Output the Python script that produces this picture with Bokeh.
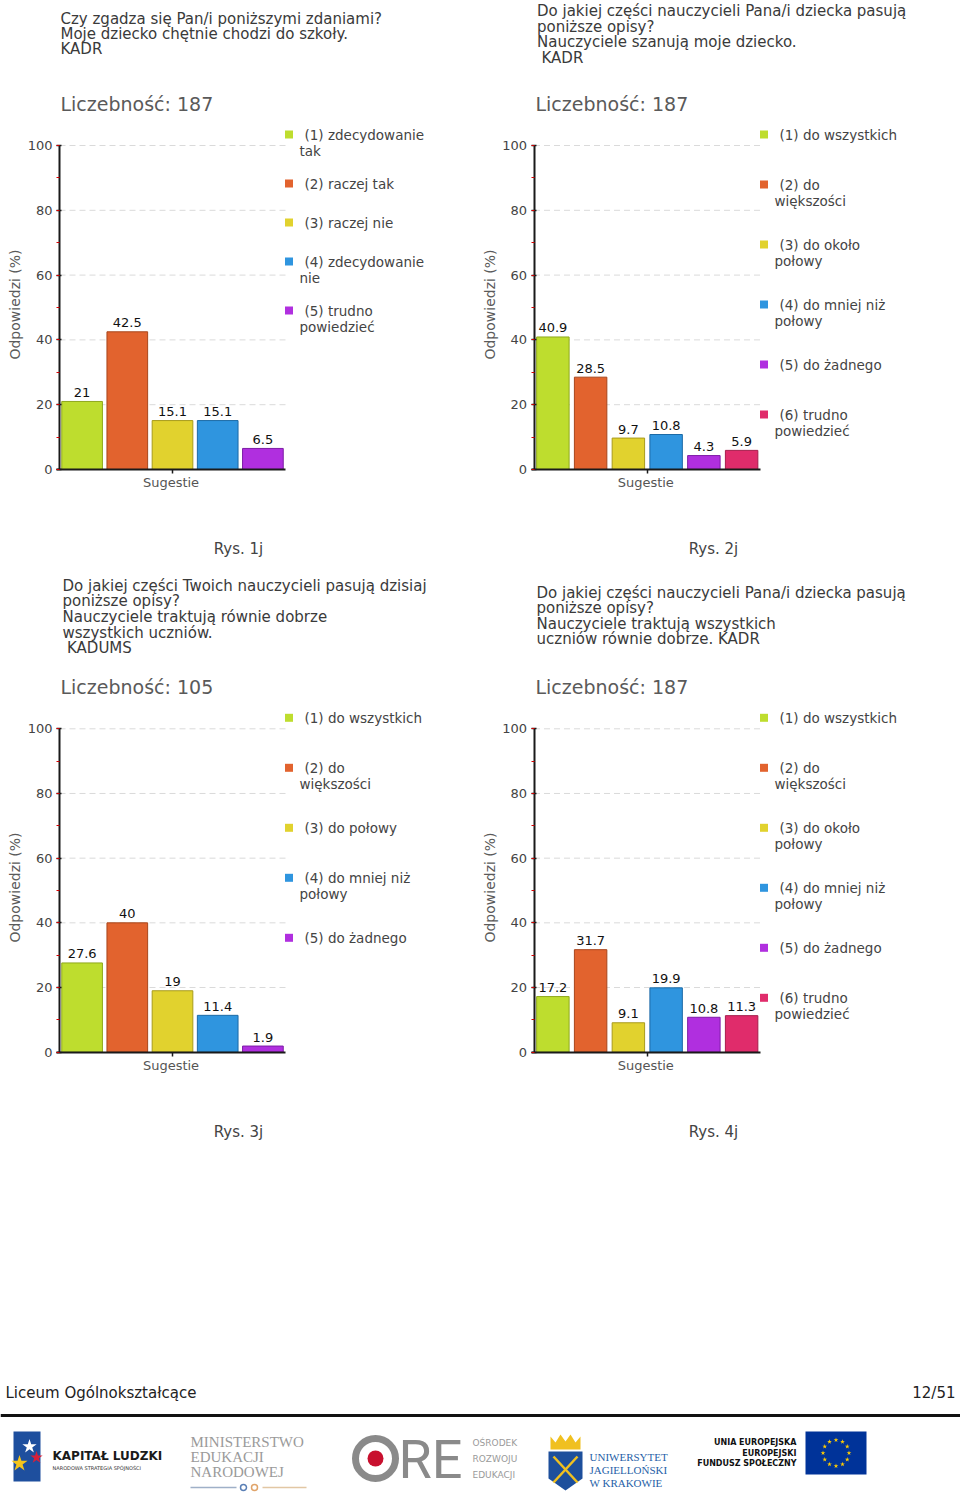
import math
from bokeh.plotting import figure
from bokeh.models import (Range1d, LinearAxis, SingleIntervalTicker, FixedTicker,
                          ColumnDataSource, Span)
from bokeh.core.properties import value
from bokeh.embed import file_html
from bokeh.resources import INLINE

# ---------------- data ----------------
TITLE_1 = ["Czy zgadza się Pan/i poniższymi zdaniami?",
           "Moje dziecko chętnie chodzi do szkoły.",
           "KADR"]
TITLE_2 = ["Do jakiej części nauczycieli Pana/i dziecka pasują",
           "poniższe opisy?",
           "Nauczyciele szanują moje dziecko.",
           " KADR"]
TITLE_3 = ["Do jakiej części Twoich nauczycieli pasują dzisiaj",
           "poniższe opisy?",
           "Nauczyciele traktują równie dobrze",
           "wszystkich uczniów.",
           " KADUMS"]
TITLE_4 = ["Do jakiej części nauczycieli Pana/i dziecka pasują",
           "poniższe opisy?",
           "Nauczyciele traktują wszystkich",
           "uczniów równie dobrze.  KADR"]

COUNT_1, COUNT_2, COUNT_3, COUNT_4 = 187, 187, 105, 187

LEGEND_1 = ["(1) zdecydowanie\ntak", "(2) raczej tak", "(3) raczej nie",
            "(4) zdecydowanie\nnie", "(5) trudno\npowiedzieć"]
LEGEND_2 = ["(1) do wszystkich", "(2) do\nwiększości", "(3) do około\npołowy",
            "(4) do mniej niż\npołowy", "(5) do żadnego", "(6) trudno\npowiedzieć"]
LEGEND_3 = ["(1) do wszystkich", "(2) do\nwiększości", "(3) do połowy",
            "(4) do mniej niż\npołowy", "(5) do żadnego"]
LEGEND_4 = ["(1) do wszystkich", "(2) do\nwiększości", "(3) do około\npołowy",
            "(4) do mniej niż\npołowy", "(5) do żadnego", "(6) trudno\npowiedzieć"]

VALUES_1 = [21, 42.5, 15.1, 15.1, 6.5]
VALUES_2 = [40.9, 28.5, 9.7, 10.8, 4.3, 5.9]
VALUES_3 = [27.6, 40, 19, 11.4, 1.9]
VALUES_4 = [17.2, 31.7, 9.1, 19.9, 10.8, 11.3]

CAPTIONS = ["Rys. 1j", "Rys. 2j", "Rys. 3j", "Rys. 4j"]
Y_LABEL = "Odpowiedzi (%)"
X_LABEL = "Sugestie"
COUNT_PREFIX = "Liczebność: "
Y_TICKS = [0, 20, 40, 60, 80, 100]
FOOTER_LEFT = "Liceum Ogólnokształcące"
FOOTER_RIGHT = "12/51"

# ---------------- style ----------------
COLORS = ["#bedd2e", "#e2632e", "#e1d22e", "#2f95df", "#b02fdf", "#e02c6b"]
EDGES = ["#8fa81c", "#a8461c", "#a89b1c", "#1c6aa6", "#7d1ca6", "#a61c4b"]
FONT = value("DejaVu Sans")
FIG_W, FIG_H = 960, 1500
PX0, PY0 = 0, 0

LAYOUT = [
    dict(left=59, right=285, y0=469, y100=145, title_x=60, title_y=18.3, title_dy=15.3,
         count_x=60, count_y=103, cap_x=238, cap_y=548, leg_step=39, bar_w=0.9),
    dict(left=533.5, right=760, y0=469, y100=145, title_x=536.5, title_y=10.5, title_dy=15.5,
         count_x=535, count_y=103, cap_x=713, cap_y=548, leg_step=50, bar_w=0.86),
    dict(left=59, right=285, y0=1051.7, y100=728.3, title_x=62, title_y=585, title_dy=15.7,
         count_x=60, count_y=686.7, cap_x=238, cap_y=1131.5, leg_step=50, bar_w=0.9),
    dict(left=533.5, right=760, y0=1051.7, y100=728.3, title_x=536, title_y=592, title_dy=15.6,
         count_x=535, count_y=686.7, cap_x=713, cap_y=1131.5, leg_step=50, bar_w=0.86),
]

p = figure(width=FIG_W, height=FIG_H,
           x_range=Range1d(PX0, PX0 + FIG_W), y_range=Range1d(PY0 + FIG_H, PY0),
           x_axis_type=None, y_axis_type=None, output_backend="svg",
           toolbar_location=None, min_border=0, outline_line_color=None,
           background_fill_color="white", border_fill_color="white")


def txt(xs, ys, texts, size, color="#333", align="left", baseline="middle",
        style="normal", font=FONT, angle=0.0):
    p.text(x=xs, y=ys, text=texts, text_font=font, text_font_size=size,
           text_color=color, text_align=align, text_baseline=baseline,
           text_font_style=style, angle=angle)


def draw_chart(k, title, count, legend, values, caption, lay):
    n = len(values)
    left, right, y0, y100 = lay["left"], lay["right"], lay["y0"], lay["y100"]
    u = n / (right - left)
    s = 100.0 / (y0 - y100)
    xn, yn = f"x{k}", f"y{k}"
    p.extra_x_ranges[xn] = Range1d(-(left - PX0) * u, n + (PX0 + FIG_W - right) * u)
    p.extra_y_ranges[yn] = Range1d(-(PY0 + FIG_H - y0) * s, 100 + (y100 - PY0) * s)

    grid = [t for t in Y_TICKS if t > 0]
    p.segment(x0=[0] * len(grid), x1=[n] * len(grid), y0=grid, y1=grid,
              line_color="#dadada", line_dash="6 4", line_width=1,
              x_range_name=xn, y_range_name=yn)

    src = ColumnDataSource(dict(x=[i + 0.5 for i in range(n)], top=values,
                                fill=COLORS[:n], edge=EDGES[:n],
                                label=[f"{v:g}" for v in values]))
    p.vbar(x="x", top="top", bottom=0, width=lay["bar_w"], fill_color="fill",
           line_color="edge", line_width=1, source=src,
           x_range_name=xn, y_range_name=yn)
    p.text(x="x", y="top", text="label", source=src, x_range_name=xn, y_range_name=yn,
           text_font=FONT, text_font_size="13px", text_color="#111",
           text_align="center", text_baseline="middle", y_offset=-9)

    yax = LinearAxis(x_range_name=xn, y_range_name=yn, fixed_location=0, bounds=(0, 100),
                     ticker=SingleIntervalTicker(interval=20, num_minor_ticks=2),
                     axis_line_color="#1a1a1a", axis_line_width=2,
                     major_tick_line_color="#1a1a1a", major_tick_line_width=1.5,
                     major_tick_out=3, major_tick_in=2,
                     minor_tick_line_color="#d40000", minor_tick_line_width=1,
                     minor_tick_out=3, minor_tick_in=0,
                     major_label_text_font="DejaVu Sans",
                     major_label_text_font_size="13px",
                     major_label_text_color="#444", major_label_standoff=4)
    p.add_layout(yax, "left")
    xax = LinearAxis(x_range_name=xn, y_range_name=yn, fixed_location=0,
                     bounds=(-0.06, n), ticker=FixedTicker(ticks=[n / 2]),
                     major_label_overrides={n / 2: ""},
                     major_label_text_font_size="0px",
                     axis_line_color="#1a1a1a", axis_line_width=2,
                     major_tick_line_color="#1a1a1a", major_tick_line_width=1.5,
                     major_tick_out=4, major_tick_in=0,
                     minor_tick_out=0, minor_tick_in=0)
    p.add_layout(xax, "below")

    # axis titles
    txt([left - 44.5], [(y0 + y100) / 2 - 3], [Y_LABEL], "14px", color="#5a5a5a",
        align="center", angle=math.pi / 2)
    txt([(left + right) / 2 - 1.5], [y0 + 13.3], [X_LABEL], "13px", color="#555",
        align="center")

    # question text
    xs, ys, ts = [], [], []
    for j, line in enumerate(title):
        lead = len(line) - len(line.lstrip())
        xs.append(lay["title_x"] + 4.5 * lead)
        ys.append(lay["title_y"] + j * lay["title_dy"])
        ts.append(line.strip())
    txt(xs, ys, ts, "15px", color="#3a3a3a")

    txt([lay["count_x"]], [lay["count_y"]], [COUNT_PREFIX + str(count)], "19px", color="#5a5a5a")
    txt([lay["cap_x"]], [lay["cap_y"]], [caption], "15px", color="#444", align="center")

    # legend
    sq_x = right + 3.5
    ly = y100 - 11
    sx, sy, sc = [], [], []
    tx, ty, tt = [], [], []
    for i, lab in enumerate(legend):
        lines = lab.split("\n")
        sx.append(sq_x); sy.append(ly); sc.append(COLORS[i])
        for j, ln in enumerate(lines):
            tx.append(sq_x + (15.5 if j == 0 else 10.5))
            ty.append(ly + 16 * j)
            tt.append(ln)
        ly += lay["leg_step"] + 10 * (len(lines) - 1)
    p.scatter(x=sx, y=sy, marker="square", size=8, fill_color=sc, line_color=None)
    txt(tx, ty, tt, "13.5px", color="#444")


draw_chart(1, TITLE_1, COUNT_1, LEGEND_1, VALUES_1, CAPTIONS[0], LAYOUT[0])
draw_chart(2, TITLE_2, COUNT_2, LEGEND_2, VALUES_2, CAPTIONS[1], LAYOUT[1])
draw_chart(3, TITLE_3, COUNT_3, LEGEND_3, VALUES_3, CAPTIONS[2], LAYOUT[2])
draw_chart(4, TITLE_4, COUNT_4, LEGEND_4, VALUES_4, CAPTIONS[3], LAYOUT[3])

# ---------------- footer ----------------
txt([5], [1392], [FOOTER_LEFT], "15px", color="#222")
txt([955], [1392], [FOOTER_RIGHT], "15px", color="#222", align="right")
p.add_layout(Span(location=1415, dimension="width", line_color="#111", line_width=3))

# logo: Kapitał Ludzki
p.quad(left=[13], right=[40], top=[1431], bottom=[1481], fill_color="#1e4f9e", line_color=None)
p.scatter(x=[29, 36, 19], y=[1446, 1457, 1463], marker="star", size=[15, 13, 17],
          fill_color=["white", "#d6203a", "#f4c51b"], line_color=None)
txt([52], [1455], ["KAPITAŁ LUDZKI"], "12px", color="#1a1a1a", style="bold")
txt([52], [1467], ["NARODOWA STRATEGIA SPÓJNOŚCI"], "5px", color="#333")

# logo: MEN
txt([190, 190, 190], [1441, 1456, 1471], ["MINISTERSTWO", "EDUKACJI", "NARODOWEJ"],
    "15px", color="#9a9a9a", font=value("Liberation Serif"))
p.segment(x0=[190, 262], x1=[236, 306], y0=[1487, 1487], y1=[1487, 1487],
          line_color=["#9fb0c8", "#e2c7a4"], line_width=1.5)
p.scatter(x=[243, 254], y=[1487, 1487], marker="circle", size=6,
          fill_color=None, line_color=["#5a7fb5", "#e0a46a"], line_width=1.5)

# logo: ORE
p.scatter(x=[375], y=[1458], marker="circle", size=40, fill_color=None,
          line_color="#8a8a8a", line_width=7)
p.scatter(x=[375], y=[1458], marker="circle", size=16, fill_color="#c8102e", line_color=None)
txt([398], [1459], ["RE"], "54px", color="#8a8a8a", font=value("Roboto"))
txt([472, 472, 472], [1442, 1458, 1474], ["OŚRODEK", "ROZWOJU", "EDUKACJI"],
    "9px", color="#9a9a9a")

# logo: UJ
p.patch(x=[548, 582, 582, 565, 548], y=[1451, 1451, 1478, 1490, 1478],
        fill_color="#1d4f9c", line_color=None)
p.patch(x=[550, 555, 560, 565, 570, 575, 580, 580, 550],
        y=[1436, 1442, 1434, 1441, 1434, 1442, 1436, 1449, 1449],
        fill_color="#f0c020", line_color=None)
p.segment(x0=[553, 577], x1=[577, 553], y0=[1456, 1456], y1=[1482, 1482],
          line_color="#f0c020", line_width=2.5)
txt([589, 589, 589], [1456, 1469, 1482], ["UNIWERSYTET", "JAGIELLOŃSKI", "W KRAKOWIE"],
    "11px", color="#1f5fa8", font=value("Liberation Serif"))

# logo: EU / EFS
txt([796, 796, 796], [1442, 1453, 1463],
    ["UNIA EUROPEJSKA", "EUROPEJSKI", "FUNDUSZ SPOŁECZNY"],
    "8px", color="#111", align="right", style="bold")
p.quad(left=[805], right=[866], top=[1431], bottom=[1474], fill_color="#003399", line_color=None)
ang = [math.radians(30 * i) for i in range(12)]
p.scatter(x=[835.5 + 13 * math.cos(a) for a in ang], y=[1452.5 + 13 * math.sin(a) for a in ang],
          marker="star", size=5, fill_color="#ffcc00", line_color=None)

open("out.html", "w").write(file_html(p, INLINE))
